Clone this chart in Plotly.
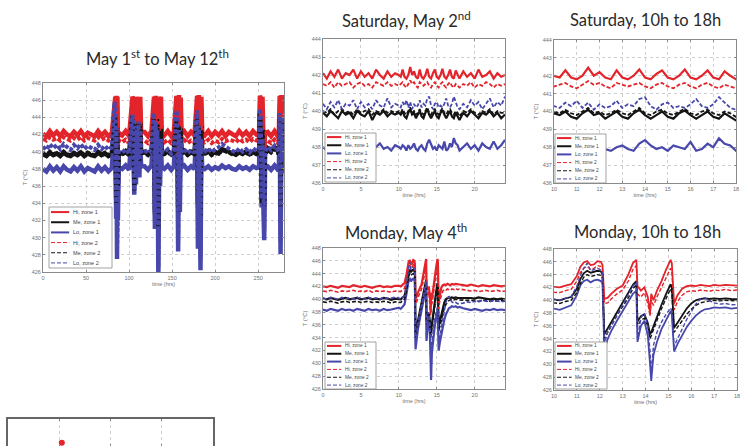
import plotly.graph_objects as go

# ---------------- data ----------------
SERIES = ["Hi, zone 1", "Me, zone 1", "Lo, zone 1", "Hi, zone 2", "Me, zone 2", "Lo, zone 2"]
COLORS = ["#e3242b", "#141414", "#4848ac", "#e3242b", "#141414", "#4848ac"]
DASHES = ["solid", "solid", "solid", "4px,2px", "4px,2px", "4px,2px"]

# Whole period, May 1st to May 12th (hours)
ALL_T = [0, 4, 8, 12, 16, 20, 24, 28, 32, 36, 40, 44, 48, 52, 56, 60, 64, 68, 72, 76, 80,
         83, 84, 85, 85.5, 86, 86.5, 87, 88,
         92, 96, 100,
         104, 105, 106, 107, 108, 109, 110, 111, 112, 113, 114,
         118, 122, 126,
         129, 130, 131, 132, 133, 134, 135, 136, 137, 138,
         141, 145, 149, 152,
         155, 156, 157, 158, 159, 160, 161,
         164, 168, 172, 176,
         179, 180, 181, 182, 183, 184, 185,
         188, 192, 196, 200, 204, 208, 212, 216, 220, 224, 228, 232, 236, 240, 244, 248,
         251, 252, 253, 254, 255, 256, 257, 258,
         261, 265, 269, 272,
         274, 275, 276, 277, 278, 279, 280]
ALL_HI1 = [442.1, 441.8, 442.4, 441.9, 442.3, 441.8, 442.4, 442.0, 441.8, 442.3, 441.9, 442.4, 441.8, 442.2, 442.0, 441.8, 442.4, 441.9, 442.3, 441.8, 442.2,
           446.3, 446.4, 441.0, 446.5, 440.0, 446.4, 441.5, 442.2,
           441.9, 442.4, 441.8,
           446.4, 446.2, 442.0, 446.3, 444.5, 446.4, 445.0, 446.3, 443.5, 446.4, 442.3,
           442.3, 441.8, 442.4,
           446.4, 441.0, 446.5, 445.0, 446.3, 440.5, 446.4, 445.5, 446.4, 442.2,
           441.9, 442.4, 441.8, 442.3,
           446.5, 446.0, 440.5, 446.6, 443.0, 446.3, 442.2,
           442.4, 441.8, 442.3, 441.9,
           446.5, 441.0, 446.6, 445.0, 440.0, 446.4, 442.2,
           441.9, 442.4, 441.8, 442.3, 441.9, 442.4, 441.8, 442.3, 442.0, 441.8, 442.4, 441.9, 442.3, 441.8, 442.4, 442.0,
           442.2, 446.5, 446.3, 441.0, 446.4, 442.0, 439.5, 442.2,
           442.3, 441.8, 442.4, 441.9,
           442.2, 446.5, 441.0, 446.6, 445.0, 446.5, 446.0]
ALL_HI2 = [441.5, 441.3, 441.7, 441.4, 441.6, 441.3, 441.7, 441.5, 441.3, 441.6, 441.4, 441.7, 441.3, 441.6, 441.5, 441.3, 441.7, 441.4, 441.6, 441.3, 441.5,
           445.3, 445.4, 440.0, 445.5, 439.0, 445.2, 440.5, 441.3,
           441.1, 441.4, 441.0,
           445.4, 445.0, 441.0, 445.2, 443.5, 445.3, 444.0, 445.2, 442.5, 445.0, 441.4,
           441.3, 441.0, 441.4,
           445.4, 440.0, 445.5, 444.0, 445.2, 439.5, 445.2, 444.5, 445.2, 441.3,
           441.1, 441.4, 441.0, 441.3,
           445.5, 445.0, 439.5, 445.5, 442.0, 445.2, 441.3,
           441.4, 441.0, 441.3, 441.1,
           445.5, 440.0, 445.5, 444.0, 439.0, 445.2, 441.3,
           441.1, 441.4, 441.0, 441.3, 441.1, 441.5, 441.2, 441.4, 441.3, 441.1, 441.5, 441.2, 441.4, 441.1, 441.5, 441.3,
           441.5, 445.5, 445.3, 440.0, 445.2, 441.0, 438.5, 441.3,
           441.3, 441.0, 441.4, 441.1,
           441.3, 445.5, 440.0, 445.5, 444.0, 445.3, 445.0]
ALL_ME1 = [439.7, 439.5, 439.9, 439.6, 439.8, 439.5, 439.9, 439.6, 439.5, 439.8, 439.6, 439.9, 439.5, 439.8, 439.6, 439.5, 439.9, 439.6, 439.8, 439.5, 439.7,
           444.5, 444.5, 434.5, 443.0, 434.5, 442.5, 436.0, 439.8,
           439.8, 440.1, 439.7,
           444.3, 443.5, 436.0, 443.0, 440.0, 443.8, 441.0, 444.0, 439.0, 443.5, 439.9,
           440.0, 439.7, 440.1,
           444.4, 433.0, 443.5, 441.0, 443.8, 431.5, 442.5, 440.5, 443.0, 439.8,
           439.8, 440.1, 439.7, 440.0,
           444.3, 444.0, 433.5, 443.5, 437.0, 443.0, 439.8,
           440.1, 439.7, 440.0, 439.8,
           444.4, 434.0, 443.5, 441.0, 433.0, 443.0, 439.8,
           439.8, 440.1, 439.7, 440.0, 439.8, 440.3, 440.2, 440.0, 439.8, 439.7, 440.0, 439.8, 440.0, 439.7, 440.0, 439.8,
           439.8, 444.5, 444.0, 434.5, 443.0, 437.0, 434.0, 439.8,
           440.4, 440.1, 440.5, 440.2,
           439.8, 444.3, 434.0, 444.0, 441.0, 444.2, 443.5]
ALL_ME2 = [439.8, 439.6, 440.0, 439.7, 439.9, 439.6, 440.0, 439.7, 439.6, 439.9, 439.7, 440.0, 439.6, 439.9, 439.7, 439.6, 440.0, 439.7, 439.9, 439.6, 439.8,
           443.8, 444.0, 434.0, 442.5, 434.0, 441.8, 435.5, 439.6,
           439.7, 439.9, 439.6,
           443.8, 443.0, 435.5, 442.5, 439.5, 443.2, 440.5, 443.4, 438.5, 443.0, 439.8,
           439.9, 439.6, 440.0,
           443.8, 432.5, 443.0, 440.5, 443.2, 431.0, 442.0, 440.0, 442.5, 439.7,
           439.7, 440.0, 439.6, 439.9,
           443.8, 443.5, 433.0, 443.0, 436.5, 442.5, 439.7,
           440.0, 439.6, 439.9, 439.7,
           443.9, 433.5, 443.0, 440.5, 432.5, 442.5, 439.7,
           439.7, 440.0, 439.6, 439.9, 439.7, 440.2, 440.1, 439.9, 439.7, 439.6, 439.9, 439.7, 439.9, 439.6, 439.9, 439.7,
           439.9, 444.0, 443.5, 434.0, 442.5, 436.5, 433.5, 439.7,
           440.2, 439.9, 440.3, 440.0,
           439.7, 443.8, 433.5, 443.5, 440.5, 443.7, 443.0]
ALL_LO1 = [438.0, 437.7, 438.3, 437.8, 438.2, 437.7, 438.3, 437.9, 437.7, 438.2, 437.8, 438.3, 437.7, 438.1, 437.9, 437.7, 438.3, 437.8, 438.2, 437.7, 438.1,
           443.2, 443.0, 432.2, 441.5, 427.5, 438.3, 432.0, 438.2,
           438.0, 438.4, 437.9,
           443.0, 442.0, 435.0, 441.0, 436.2, 441.5, 438.0, 442.0, 437.0, 441.0, 438.3,
           438.3, 437.9, 438.4,
           443.5, 431.0, 442.0, 437.0, 441.5, 425.5, 438.5, 436.0, 440.5, 438.2,
           438.0, 438.4, 437.9, 438.3,
           443.8, 443.0, 428.4, 441.5, 433.0, 440.5, 438.2,
           438.4, 437.9, 438.3, 438.0,
           443.8, 428.7, 442.0, 438.0, 426.2, 440.5, 438.2,
           438.0, 438.3, 437.9, 438.2, 438.0, 438.4, 438.1, 438.3, 438.0, 437.9, 438.3, 438.0, 438.2, 437.9, 438.3, 438.1,
           438.2, 443.8, 443.0, 433.5, 440.5, 434.0, 429.7, 438.2,
           438.3, 437.9, 438.4, 438.0,
           438.2, 443.5, 428.1, 442.0, 437.5, 442.5, 441.5]
ALL_LO2 = [440.6, 440.2, 440.9, 440.4, 440.8, 440.3, 440.9, 440.5, 440.2, 440.8, 440.4, 440.9, 440.3, 440.7, 440.4, 440.2, 440.8, 440.3, 440.7, 440.2, 440.6,
           445.8, 444.8, 433.0, 442.8, 428.5, 438.8, 433.0, 440.0,
           439.9, 440.3, 439.8,
           444.3, 443.5, 435.5, 442.5, 437.0, 443.0, 439.0, 443.5, 438.0, 442.5, 440.0,
           440.2, 439.8, 440.3,
           444.5, 432.0, 443.5, 438.5, 442.5, 426.5, 439.5, 437.5, 441.5, 440.0,
           439.9, 440.3, 439.8, 440.2,
           444.8, 444.0, 429.5, 442.5, 434.0, 441.5, 440.0,
           440.3, 439.8, 440.2, 439.9,
           444.8, 430.0, 443.0, 439.5, 427.5, 441.5, 440.0,
           440.0, 440.4, 439.9, 440.3, 440.5, 440.9, 440.6, 440.3, 440.1, 439.9, 440.4, 440.0, 440.3, 439.9, 440.4, 440.1,
           440.4, 445.0, 444.0, 434.5, 441.5, 435.0, 431.0, 440.0,
           440.6, 440.2, 440.7, 440.3,
           440.0, 444.5, 429.5, 443.0, 439.0, 444.0, 443.0]

# Saturday, May 2nd (hours of the day)
SAT_T = [0, 0.5, 1, 1.5, 2, 2.5, 3, 3.5, 4, 4.5, 5, 5.5, 6, 6.5, 7, 7.5, 8, 8.5, 9, 9.5,
         10, 10.25, 10.5, 10.75, 11, 11.25, 11.5, 11.75, 12, 12.25, 12.5, 12.75, 13, 13.25, 13.5, 13.75,
         14, 14.25, 14.5, 14.75, 15, 15.25, 15.5, 15.75, 16, 16.25, 16.5, 16.75, 17, 17.25, 17.5, 17.75, 18,
         18.5, 19, 19.5, 20, 20.5, 21, 21.5, 22, 22.5, 23, 23.5, 24]
SAT_HI1 = [442.1, 441.8, 442.2, 441.9, 442.3, 441.8, 442.1, 442.0, 442.3, 441.8, 442.2, 441.9, 442.1, 441.8, 442.3, 442.0, 441.8, 442.2, 441.9, 442.1,
           442.0, 441.9, 442.3, 441.9, 441.8, 442.0, 442.45, 442.0, 442.2, 441.9, 441.8, 442.3, 441.9, 441.8, 442.0, 442.35,
           441.9, 441.8, 442.1, 442.3, 441.9, 441.8, 442.0, 442.35, 441.9, 441.8, 442.0, 442.3, 441.9, 441.8, 442.25, 442.0, 441.8,
           442.2, 441.9, 442.1, 441.8, 442.3, 441.9, 442.0, 442.2, 441.8, 442.1, 441.9, 442.0]
SAT_HI2 = [441.5, 441.4, 441.6, 441.3, 441.6, 441.4, 441.5, 441.6, 441.3, 441.5, 441.6, 441.4, 441.5, 441.3, 441.6, 441.5, 441.4, 441.6, 441.4, 441.5,
           441.4, 441.5, 441.6, 441.4, 441.3, 441.5, 441.7, 441.5, 441.6, 441.4, 441.3, 441.6, 441.5, 441.4, 441.5, 441.6,
           441.4, 441.3, 441.5, 441.6, 441.4, 441.3, 441.5, 441.6, 441.4, 441.3, 441.5, 441.6, 441.4, 441.3, 441.5, 441.4, 441.3,
           441.5, 441.4, 441.6, 441.3, 441.5, 441.4, 441.6, 441.5, 441.3, 441.5, 441.4, 441.5]
SAT_ME1 = [439.9, 439.7, 440.0, 439.8, 439.6, 440.0, 439.8, 439.9, 439.6, 440.0, 439.8, 439.7, 440.0, 439.5, 439.9, 439.8, 440.0, 439.7, 439.9, 439.8,
           439.9, 439.8, 440.0, 439.7, 439.6, 439.9, 440.1, 439.8, 439.9, 439.6, 439.8, 440.0, 439.7, 439.6, 439.9, 440.1,
           439.8, 439.6, 439.8, 440.0, 439.7, 439.6, 439.9, 440.05, 439.8, 439.6, 439.8, 440.0, 439.7, 439.6, 439.9, 439.7, 439.5,
           439.9, 439.7, 440.0, 439.8, 439.6, 439.9, 439.8, 440.0, 439.7, 439.9, 439.6, 439.8]
SAT_ME2 = [440.0, 439.9, 440.1, 439.8, 440.0, 440.1, 439.9, 440.0, 439.8, 440.1, 439.9, 440.0, 440.1, 439.8, 440.0, 439.9, 440.1, 439.9, 440.0, 439.9,
           440.0, 439.9, 440.1, 439.9, 439.8, 440.0, 440.2, 439.9, 440.0, 439.8, 439.9, 440.1, 439.9, 439.8, 440.0, 440.2,
           439.9, 439.8, 440.0, 440.1, 439.9, 439.8, 440.0, 440.15, 439.9, 439.8, 440.0, 440.1, 439.9, 439.8, 440.0, 439.9, 439.7,
           440.0, 439.9, 440.1, 439.9, 439.8, 440.0, 439.9, 440.1, 439.8, 440.0, 439.9, 439.9]
SAT_LO1 = [438.0, 437.8, 438.1, 437.9, 438.2, 437.8, 438.0, 438.1, 437.8, 438.2, 437.9, 438.0, 438.1, 437.8, 438.0, 438.2, 437.9, 438.0, 437.8, 438.1,
           438.0, 437.9, 438.1, 438.0, 437.8, 438.1, 437.9, 438.0, 438.2, 437.9, 437.8, 438.0, 438.1, 437.9, 437.8, 438.2,
           438.4, 438.1, 437.9, 438.0, 437.8, 438.1, 438.0, 437.9, 438.3, 437.8, 437.9, 438.2, 438.0, 438.5, 438.2, 438.1, 437.8,
           438.0, 438.2, 437.9, 438.1, 437.8, 438.2, 438.0, 437.9, 438.3, 437.9, 438.1, 438.4]
SAT_LO2 = [440.4, 440.1, 440.5, 440.2, 440.6, 440.1, 440.4, 440.3, 440.6, 440.1, 440.5, 440.2, 440.4, 440.1, 440.6, 440.3, 440.2, 440.7, 440.2, 440.4,
           440.3, 440.2, 440.5, 440.3, 440.6, 440.2, 440.5, 440.1, 440.4, 440.2, 440.3, 440.6, 440.2, 440.4, 440.3, 440.7,
           440.8, 440.3, 440.1, 440.4, 440.5, 440.2, 440.3, 440.2, 440.4, 440.7, 440.3, 440.2, 440.4, 440.8, 440.5, 440.2, 440.1,
           440.4, 440.2, 440.6, 440.3, 440.5, 440.1, 440.4, 440.7, 440.2, 440.5, 440.3, 440.8]

# Monday, May 4th (hours of the day)
MON_T = [0, 0.5, 1, 1.5, 2, 2.5, 3, 3.5, 4, 4.5, 5, 5.5, 6, 6.5, 7, 7.5, 8, 8.5, 9, 9.5,
         10.0, 10.25, 10.5, 10.75, 11.0, 11.15, 11.3, 11.45, 11.6, 11.75, 11.9, 12.05, 12.12, 12.2, 12.35, 12.5, 12.75,
         13.0, 13.25, 13.45, 13.6, 13.65, 13.8, 13.95, 14.1, 14.2, 14.25, 14.35, 14.5, 14.7, 14.9,
         15.1, 15.15, 15.25, 15.4, 15.6, 15.8, 16.0, 16.2, 16.4, 16.6, 16.8, 17.0, 17.25, 17.5, 17.75, 18.0,
         18.5, 19, 19.5, 20, 20.5, 21, 21.5, 22, 22.5, 23, 23.5, 24]
MON_HI1 = [442.0, 441.9, 442.1, 442.0, 441.8, 442.1, 442.0, 441.9, 442.2, 442.0, 441.9, 442.1, 442.0, 441.8, 442.0, 442.1, 441.9, 442.0, 441.9, 442.1,
           442.1, 442.0, 442.3, 442.5, 443.8, 445.2, 445.9, 446.1, 445.5, 445.6, 446.1, 446.0, 445.5, 440.2, 440.4, 441.0, 441.8,
           442.3, 444.0, 445.8, 446.3, 442.2, 441.5, 442.0, 440.5, 438.0, 441.0, 440.0, 441.5, 443.0, 444.8,
           446.3, 445.8, 439.5, 440.8, 441.8, 442.2, 442.3, 442.2, 442.4, 442.3, 442.2, 442.4, 442.3, 442.4, 442.3, 442.3,
           442.2, 442.1, 442.3, 442.1, 442.0, 442.2, 442.1, 442.0, 442.2, 442.1, 442.0, 442.1]
MON_HI2 = [441.3, 441.2, 441.4, 441.3, 441.1, 441.3, 441.2, 441.3, 441.4, 441.2, 441.3, 441.2, 441.4, 441.1, 441.3, 441.2, 441.3, 441.2, 441.1, 441.3,
           441.3, 441.2, 441.5, 441.7, 443.0, 444.3, 445.0, 445.3, 444.8, 445.0, 445.4, 445.3, 444.8, 439.5, 439.6, 440.2, 441.0,
           441.6, 443.0, 444.8, 445.4, 441.0, 440.5, 441.2, 439.5, 437.5, 440.0, 439.2, 440.5, 442.0, 443.5,
           445.0, 444.6, 438.5, 439.8, 440.8, 441.3, 441.5, 441.4, 441.6, 441.5, 441.4, 441.6, 441.5, 441.7, 441.5, 441.6,
           441.5, 441.4, 441.3, 441.4, 441.2, 441.3, 441.4, 441.2, 441.3, 441.4, 441.2, 441.3]
MON_ME1 = [440.1, 440.0, 440.2, 440.1, 439.9, 440.1, 440.2, 440.0, 440.1, 440.2, 440.0, 440.1, 440.2, 440.0, 440.1, 440.0, 440.2, 440.1, 439.9, 440.1,
           440.1, 440.0, 440.3, 440.5, 441.8, 443.3, 444.2, 444.6, 444.3, 444.5, 444.6, 444.5, 444.0, 434.7, 435.6, 436.6, 438.2,
           439.6, 441.0, 442.4, 443.0, 436.7, 437.5, 437.8, 436.5, 434.7, 435.0, 436.0, 437.6, 439.3, 441.0,
           442.5, 442.0, 435.7, 436.5, 437.6, 438.7, 439.5, 440.0, 440.2, 440.3, 440.2, 440.3, 440.2, 440.3, 440.2, 440.2,
           440.2, 440.3, 440.2, 440.1, 440.3, 440.2, 440.1, 440.0, 440.1, 440.0, 440.1, 440.0]
MON_ME2 = [439.6, 439.5, 439.7, 439.6, 439.4, 439.6, 439.7, 439.5, 439.6, 439.7, 439.5, 439.6, 439.7, 439.5, 439.6, 439.5, 439.7, 439.6, 439.4, 439.6,
           439.6, 439.5, 439.8, 440.0, 441.2, 442.6, 443.6, 444.0, 443.7, 443.9, 444.0, 443.9, 443.4, 434.0, 435.0, 436.0, 437.6,
           439.0, 440.4, 441.8, 442.4, 436.0, 436.9, 437.2, 436.0, 434.0, 434.5, 435.4, 437.0, 438.7, 440.3,
           441.8, 441.2, 435.0, 435.8, 436.8, 437.8, 438.6, 439.2, 439.6, 439.8, 439.9, 440.0, 439.9, 440.0, 439.9, 439.9,
           439.9, 439.8, 439.9, 439.8, 439.7, 439.8, 439.9, 439.7, 439.8, 439.7, 439.8, 439.7]
MON_LO1 = [438.4, 438.2, 438.5, 438.3, 438.2, 438.5, 438.3, 438.4, 438.2, 438.5, 438.3, 438.2, 438.5, 438.3, 438.4, 438.2, 438.5, 438.3, 438.4, 438.5,
           438.7, 438.5, 438.8, 439.2, 440.8, 442.3, 443.0, 443.2, 442.8, 443.1, 443.2, 443.0, 442.6, 432.2, 434.0, 435.2, 436.8,
           438.4, 439.8, 441.0, 441.5, 433.5, 436.0, 436.8, 434.5, 430.0, 427.4, 431.5, 433.5, 435.5, 437.0,
           438.3, 437.8, 432.0, 433.2, 434.6, 435.8, 436.8, 437.6, 438.2, 438.6, 438.7, 438.9, 438.8, 438.9, 438.7, 438.8,
           438.6, 438.5, 438.3, 438.5, 438.4, 438.2, 438.4, 438.3, 438.5, 438.3, 438.4, 438.3]
MON_LO2 = [440.2, 440.0, 440.3, 440.1, 440.0, 440.3, 440.1, 440.2, 440.0, 440.3, 440.1, 440.0, 440.3, 440.1, 440.2, 440.0, 440.3, 440.1, 440.2, 440.3,
           440.2, 440.0, 440.3, 440.6, 442.2, 443.8, 445.0, 445.8, 444.6, 444.8, 445.0, 444.7, 444.2, 433.0, 435.2, 436.0, 437.6,
           439.2, 440.8, 442.2, 442.8, 434.0, 437.3, 438.0, 436.0, 432.0, 428.5, 433.0, 435.0, 436.6, 437.8,
           438.8, 438.3, 432.8, 434.0, 435.6, 437.0, 438.2, 439.4, 440.2, 440.4, 439.9, 439.6, 439.4, 439.5, 439.3, 439.3,
           439.4, 439.6, 439.5, 439.7, 439.6, 439.8, 439.7, 439.6, 439.8, 439.7, 439.6, 439.7]

# partial panel at the bottom-left (cut off by the frame)
PART_X = [1.05]
PART_Y = [0.12]

ALL_SET = (ALL_T, [ALL_HI1, ALL_ME1, ALL_LO1, ALL_HI2, ALL_ME2, ALL_LO2])
SAT_SET = (SAT_T, [SAT_HI1, SAT_ME1, SAT_LO1, SAT_HI2, SAT_ME2, SAT_LO2])
MON_SET = (MON_T, [MON_HI1, MON_ME1, MON_LO1, MON_HI2, MON_ME2, MON_LO2])
for t, ys in (ALL_SET, SAT_SET, MON_SET):
    for y in ys:
        assert len(y) == len(t), (len(y), len(t))

# ---------------- layout helpers ----------------
W, H = 750, 446


def fx(x):
    return x / W


def fy(y):
    return 1 - y / H


Y_WIDE = list(range(426, 449, 2))
Y_NARROW = list(range(436, 445))

PANELS = [
    dict(box=(43, 83, 284, 272), data=ALL_SET, xr=[0, 280], xt=[0, 50, 100, 150, 200, 250],
         yr=[426, 448], yt=Y_WIDE, lw=(4.5, 4), title="May 1<sup>st</sup> to May 12<sup>th</sup>",
         tpos=(157, 58), leg=(49, 207, 112, 268), lfs=5.5),
    dict(box=(323, 39, 505, 183), data=SAT_SET, xr=[0, 24], xt=[0, 5, 10, 15, 20],
         yr=[436, 444], yt=Y_NARROW, lw=(2.2, 1.8), title="Saturday, May 2<sup>nd</sup>",
         tpos=(406, 20), leg=(325, 133, 376, 182), lfs=4.8),
    dict(box=(554, 40, 736, 183), data=SAT_SET, xr=[10, 18], xt=list(range(10, 19)),
         yr=[436, 444], yt=Y_NARROW, lw=(2.2, 1.8), title="Saturday, 10h to 18h",
         tpos=(645, 20), leg=(555, 134, 606, 183), lfs=4.8),
    dict(box=(323, 248, 505, 389), data=MON_SET, xr=[0, 24], xt=[0, 5, 10, 15, 20],
         yr=[426, 448], yt=Y_WIDE, lw=(2.2, 1.6), title="Monday, May 4<sup>th</sup>",
         tpos=(406, 232), leg=(325, 342, 376, 389), lfs=4.8),
    dict(box=(554, 249, 737, 390), data=MON_SET, xr=[10, 18], xt=list(range(10, 19)),
         yr=[426, 448], yt=Y_WIDE, lw=(1.8, 1.4), title="Monday, 10h to 18h",
         tpos=(647, 232), leg=(555, 342, 607, 389), lfs=4.8),
]

AX_COMMON = dict(showline=True, mirror="ticks", linecolor="#8a8a8a", linewidth=1,
                 showgrid=True, gridcolor="#cfcfcf", griddash="dot", gridwidth=1,
                 zeroline=False, ticks="inside", ticklen=2, tickcolor="#8a8a8a",
                 tickfont=dict(size=5.5, color="#707070", family="Liberation Sans"),
                 automargin=False)

fig = go.Figure()
layout = dict(width=W, height=H, margin=dict(l=0, r=0, t=0, b=0),
              paper_bgcolor="white", plot_bgcolor="white", showlegend=False)
shapes = []
annotations = []

for i, p in enumerate(PANELS, start=1):
    sfx = "" if i == 1 else str(i)
    x0, y0, x1, y1 = p["box"]
    t, ys = p["data"]
    for k, y in enumerate(ys):
        w = p["lw"][0] if k < 3 else p["lw"][1]
        fig.add_trace(go.Scatter(x=t, y=y, mode="lines", name=SERIES[k],
                                 line=dict(color=COLORS[k], width=w, dash=DASHES[k]),
                                 xaxis="x" + sfx, yaxis="y" + sfx))
    layout["xaxis" + sfx] = dict(AX_COMMON, domain=[fx(x0), fx(x1)], range=p["xr"],
                                 tickvals=p["xt"], anchor="y" + sfx,
                                 title=dict(text="time (hrs)", standoff=2,
                                            font=dict(size=5.5, color="#707070", family="Liberation Sans")))
    layout["yaxis" + sfx] = dict(AX_COMMON, domain=[fy(y1), fy(y0)], range=p["yr"],
                                 tickvals=p["yt"], anchor="x" + sfx,
                                 title=dict(text="T (°C)", standoff=3,
                                            font=dict(size=6, color="#707070", family="Liberation Sans")))
    # panel title
    annotations.append(dict(text=p["title"], x=fx(p["tpos"][0]), y=fy(p["tpos"][1]),
                            xref="paper", yref="paper", xanchor="center", yanchor="middle",
                            showarrow=False, font=dict(family="Lato", size=16.5, color="#2a2a2a")))
    # legend box
    lx0, ly0, lx1, ly1 = p["leg"]
    shapes.append(dict(type="rect", xref="paper", yref="paper", x0=fx(lx0), x1=fx(lx1),
                       y0=fy(ly1), y1=fy(ly0), fillcolor="white",
                       line=dict(color="#8a8a8a", width=0.8)))
    lw_box = lx1 - lx0
    for k, name in enumerate(SERIES):
        yc = ly0 + (ly1 - ly0) * (k + 0.5) / 6
        shapes.append(dict(type="line", xref="paper", yref="paper",
                           x0=fx(lx0 + 2), x1=fx(lx0 + lw_box * 0.32), y0=fy(yc), y1=fy(yc),
                           line=dict(color=COLORS[k], width=2 if k < 3 else 1.0, dash=DASHES[k])))
        annotations.append(dict(text=name, x=fx(lx0 + lw_box * 0.35), y=fy(yc),
                                xref="paper", yref="paper", xanchor="left", yanchor="middle",
                                showarrow=False,
                                font=dict(size=p["lfs"], color="#444", family="Liberation Sans")))

# partial panel at the bottom-left corner
fig.add_trace(go.Scatter(x=PART_X, y=PART_Y, mode="markers", cliponaxis=False,
                         marker=dict(color="#e3242b", size=6), xaxis="x6", yaxis="y6"))
layout["xaxis6"] = dict(AX_COMMON, domain=[fx(8), fx(213)], range=[0, 4], tickvals=[1, 2, 3],
                        showticklabels=False, anchor="y6", linecolor="#666", linewidth=1.5)
layout["yaxis6"] = dict(AX_COMMON, domain=[0, fy(419)], range=[0, 1], tickvals=[],
                        showgrid=False, showticklabels=False, anchor="x6",
                        linecolor="#666", linewidth=1.5)

layout["shapes"] = shapes
layout["annotations"] = annotations
fig.update_layout(**layout)
fig.write_html("out.html", config={"displayModeBar": False},
               post_script="document.body.style.margin='0';document.body.style.padding='0';")
